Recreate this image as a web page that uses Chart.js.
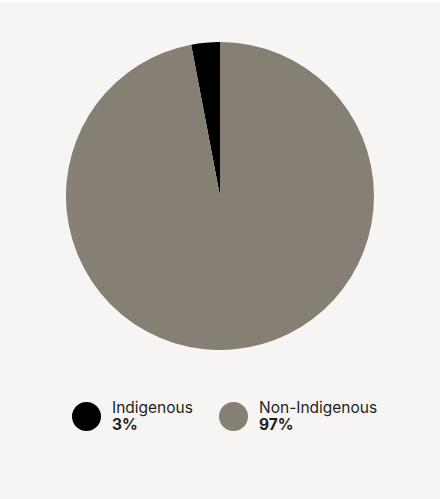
<!DOCTYPE html>
<html>
<head>
<meta charset="utf-8">
<script src="https://cdn.jsdelivr.net/npm/chart.js@4"></script>
<style>
  html, body { margin: 0; padding: 0; background: #ffffff; }
  #wrap { position: relative; width: 440px; height: 497px; margin-top: 2px; background: #f6f5f3; font-family: Inter, "Noto Sans", sans-serif; color: #1e1e1e; }
  #pieBox { position: absolute; left: 0; top: 40px; width: 440px; height: 308px; }
  .item { position: absolute; top: 397px; display: flex; align-items: center; }
  .dot { width: 29px; height: 29px; border-radius: 50%; margin-right: 11px; }
  .txt { font-size: 15.5px; line-height: 17px; }
  .txt b { font-weight: 700; }
</style>
</head>
<body>
<div id="wrap">
  <div id="pieBox"><canvas id="myChart"></canvas></div>
  <div id="legend"></div>
</div>
<script>
const labels = ["Indigenous", "Non-Indigenous"];
const shares = [3, 97];
const sliceColors = ["#000000", "#857f74"];
const legendLeft = [72, 219];

// first slice ends at 12 o'clock, so start it its own width before the top
const startAngle = -shares[0] / 100 * 360;

new Chart("myChart", {
  type: "pie",
  data: {
    labels: labels,
    datasets: [{
      data: shares,
      backgroundColor: sliceColors,
      borderWidth: 0
    }]
  },
  options: {
    responsive: true,
    maintainAspectRatio: false,
    animation: false,
    rotation: startAngle,
    layout: { padding: 0 },
    plugins: {
      legend: { display: false },
      tooltip: { enabled: false }
    }
  }
});

const legend = document.getElementById("legend");
labels.forEach((name, i) => {
  const item = document.createElement("div");
  item.className = "item";
  item.style.left = legendLeft[i] + "px";
  item.innerHTML = '<div class="dot" style="background:' + sliceColors[i] + '"></div>' +
    '<div class="txt">' + name + '<br><b>' + shares[i] + '%</b></div>';
  legend.appendChild(item);
});
</script>
</body>
</html>
